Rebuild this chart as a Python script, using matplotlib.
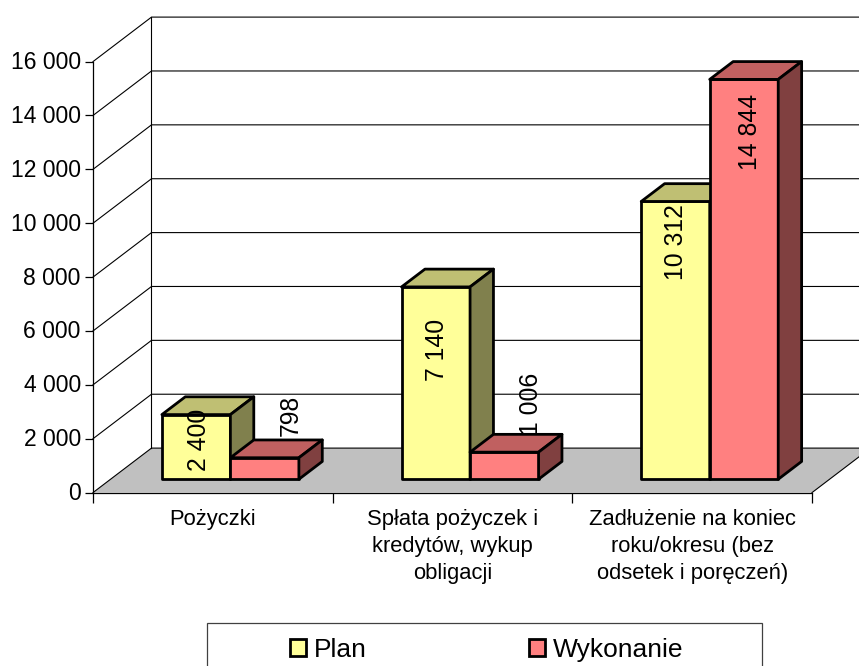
import matplotlib
matplotlib.use("Agg")
import matplotlib.pyplot as plt
from matplotlib.patches import Patch, Polygon, Rectangle
from matplotlib.transforms import Affine2D

plt.rcParams['font.family'] = ['Liberation Sans', 'DejaVu Sans']

# dane
categories = ["Pożyczki",
              "Spłata pożyczek i\nkredytów, wykup\nobligacji",
              "Zadłużenie na koniec\nroku/okresu (bez\nodsetek i poręczeń)"]
plan = [2400, 7140, 10312]
wykonanie = [798, 1006, 14844]
plan_labels = ["2 400", "7 140", "10 312"]
wykonanie_labels = ["798", "1 006", "14 844"]
y_ticks = [0, 2000, 4000, 6000, 8000, 10000, 12000, 14000, 16000]
y_tick_labels = ["0", "2 000", "4 000", "6 000", "8 000", "10 000", "12 000", "14 000", "16 000"]

# skala: piksele na kategorie / na jednostke wartosci
W, H = 859, 666
PX_CAT = 239.67
PX_VAL = 431 / 16000
X0, Y0 = 93, 492.6
DEPTH_X = 58.5 / PX_CAT
DEPTH_Y = 44.5 / PX_VAL
BAR_W = 68.5 / PX_CAT

fig = plt.figure(figsize=(W / 100, H / 100), dpi=100)
ax = fig.add_axes([0, 0, 1, 1])
ax.set_xlim(-X0 / PX_CAT, (W - X0) / PX_CAT)
ax.set_ylim((Y0 - H) / PX_VAL, Y0 / PX_VAL)
ax.patch.set_visible(False)


def proj(x, v, d):
    # rzut ukosny: d = glebokosc 0..1
    return (x + d * DEPTH_X, v + d * DEPTH_Y)


# podloga
ax.add_patch(Polygon([proj(0, 0, 0), proj(3, 0, 0), proj(3, 0, 1), proj(0, 0, 1)],
                     closed=True, fc="#C0C0C0", ec="none", zorder=1))

# siatka
for v in y_ticks:
    ax.plot(*zip(proj(0, v, 0), proj(0, v, 1), proj(3, v, 1)), color="black", lw=0.8, zorder=1.5)
ax.plot(*zip(proj(0, 0, 1), proj(0, 16000, 1)), color="black", lw=0.8, zorder=1.5)
ax.plot(*zip(proj(3, 0, 0), proj(3, 0, 1)), color="black", lw=0.8, zorder=1.5)


def bar3d(x, v, front, top, side, z):
    x2 = x + BAR_W
    ec = dict(ec="black", lw=2.0, joinstyle="round", zorder=z)
    ax.add_patch(Polygon([proj(x, 0, .3), proj(x2, 0, .3), proj(x2, v, .3), proj(x, v, .3)], fc=front, **ec))
    ax.add_patch(Polygon([proj(x, v, .3), proj(x2, v, .3), proj(x2, v, .7), proj(x, v, .7)], fc=top, **ec))
    ax.add_patch(Polygon([proj(x2, 0, .3), proj(x2, 0, .7), proj(x2, v, .7), proj(x2, v, .3)], fc=side, **ec))


for i in range(3):
    c = i + 0.5
    bar3d(c - BAR_W, plan[i], "#FFFF99", "#BFBF73", "#80804D", 3)
    bar3d(c, wykonanie[i], "#FF8080", "#C06060", "#804040", 5)

# etykiety danych (przesuniecia wzgledem srodka slupka, px)
plan_off = [(3, -25), (1, -63), (1, -41)]
wyk_off = [(26, 42), (27, 48), (6, -53)]
wyk_z = [6, 4, 6]
for i in range(3):
    c = i + 0.5
    xy = proj(c - BAR_W / 2, plan[i], .3)
    ax.annotate(plan_labels[i], xy, xytext=plan_off[i], textcoords="offset pixels", rotation=90,
                ha="center", va="center", fontsize=17.8, color="black", zorder=6)
    xy = proj(c + BAR_W / 2, wykonanie[i], .3)
    ax.annotate(wykonanie_labels[i], xy, xytext=wyk_off[i], textcoords="offset pixels", rotation=90,
                ha="center", va="center", fontsize=17.8, color="black", zorder=wyk_z[i])

# osie
for s in ["top", "right"]:
    ax.spines[s].set_visible(False)
ax.spines["left"].set_position(("data", 0))
ax.spines["left"].set_bounds(0, 16000)
ax.spines["bottom"].set_position(("data", 0))
ax.spines["bottom"].set_bounds(0, 3)
ax.spines["left"].set_linewidth(0.9)
ax.spines["bottom"].set_linewidth(0.9)
ax.set_yticks(y_ticks)
ax.set_yticklabels(y_tick_labels, fontsize=16.5)
ax.tick_params(axis="y", length=5.8, width=0.9, pad=3)
for lab in ax.get_yticklabels():
    lab.set_transform(lab.get_transform() + Affine2D().translate(0, 1.5))
ax.set_xticks([0, 1, 2, 3])
ax.set_xticklabels([])
ax.tick_params(axis="x", which="major", length=7, width=0.9)
ax.set_xticks([0.5, 1.5, 2.5], minor=True)
ax.set_xticklabels(categories, minor=True, fontsize=15.8, linespacing=1.36)
ax.tick_params(axis="x", which="minor", length=0, pad=12)

# legenda
ax.add_patch(Rectangle((206.5 / W, 1 - 676 / H), 555.5 / W, 53.5 / H, transform=fig.transFigure,
                       fc="white", ec="#404040", lw=0.9, clip_on=False, zorder=7))
handles = [Patch(fc="#FFFF99", ec="black", lw=2.0, label="Plan"),
           Patch(fc="#FF8080", ec="black", lw=2.0, label="Wykonanie")]
leg = ax.legend(handles=handles, ncol=2, frameon=False, fontsize=19,
                loc="center left", bbox_to_anchor=(290 / W, 1 - 650 / H), bbox_transform=fig.transFigure,
                borderpad=0, borderaxespad=0, handlelength=0.6, handleheight=0.6,
                handletextpad=0.3, columnspacing=6.15)
leg.set_zorder(8)

fig.savefig("out.png", dpi=100)
